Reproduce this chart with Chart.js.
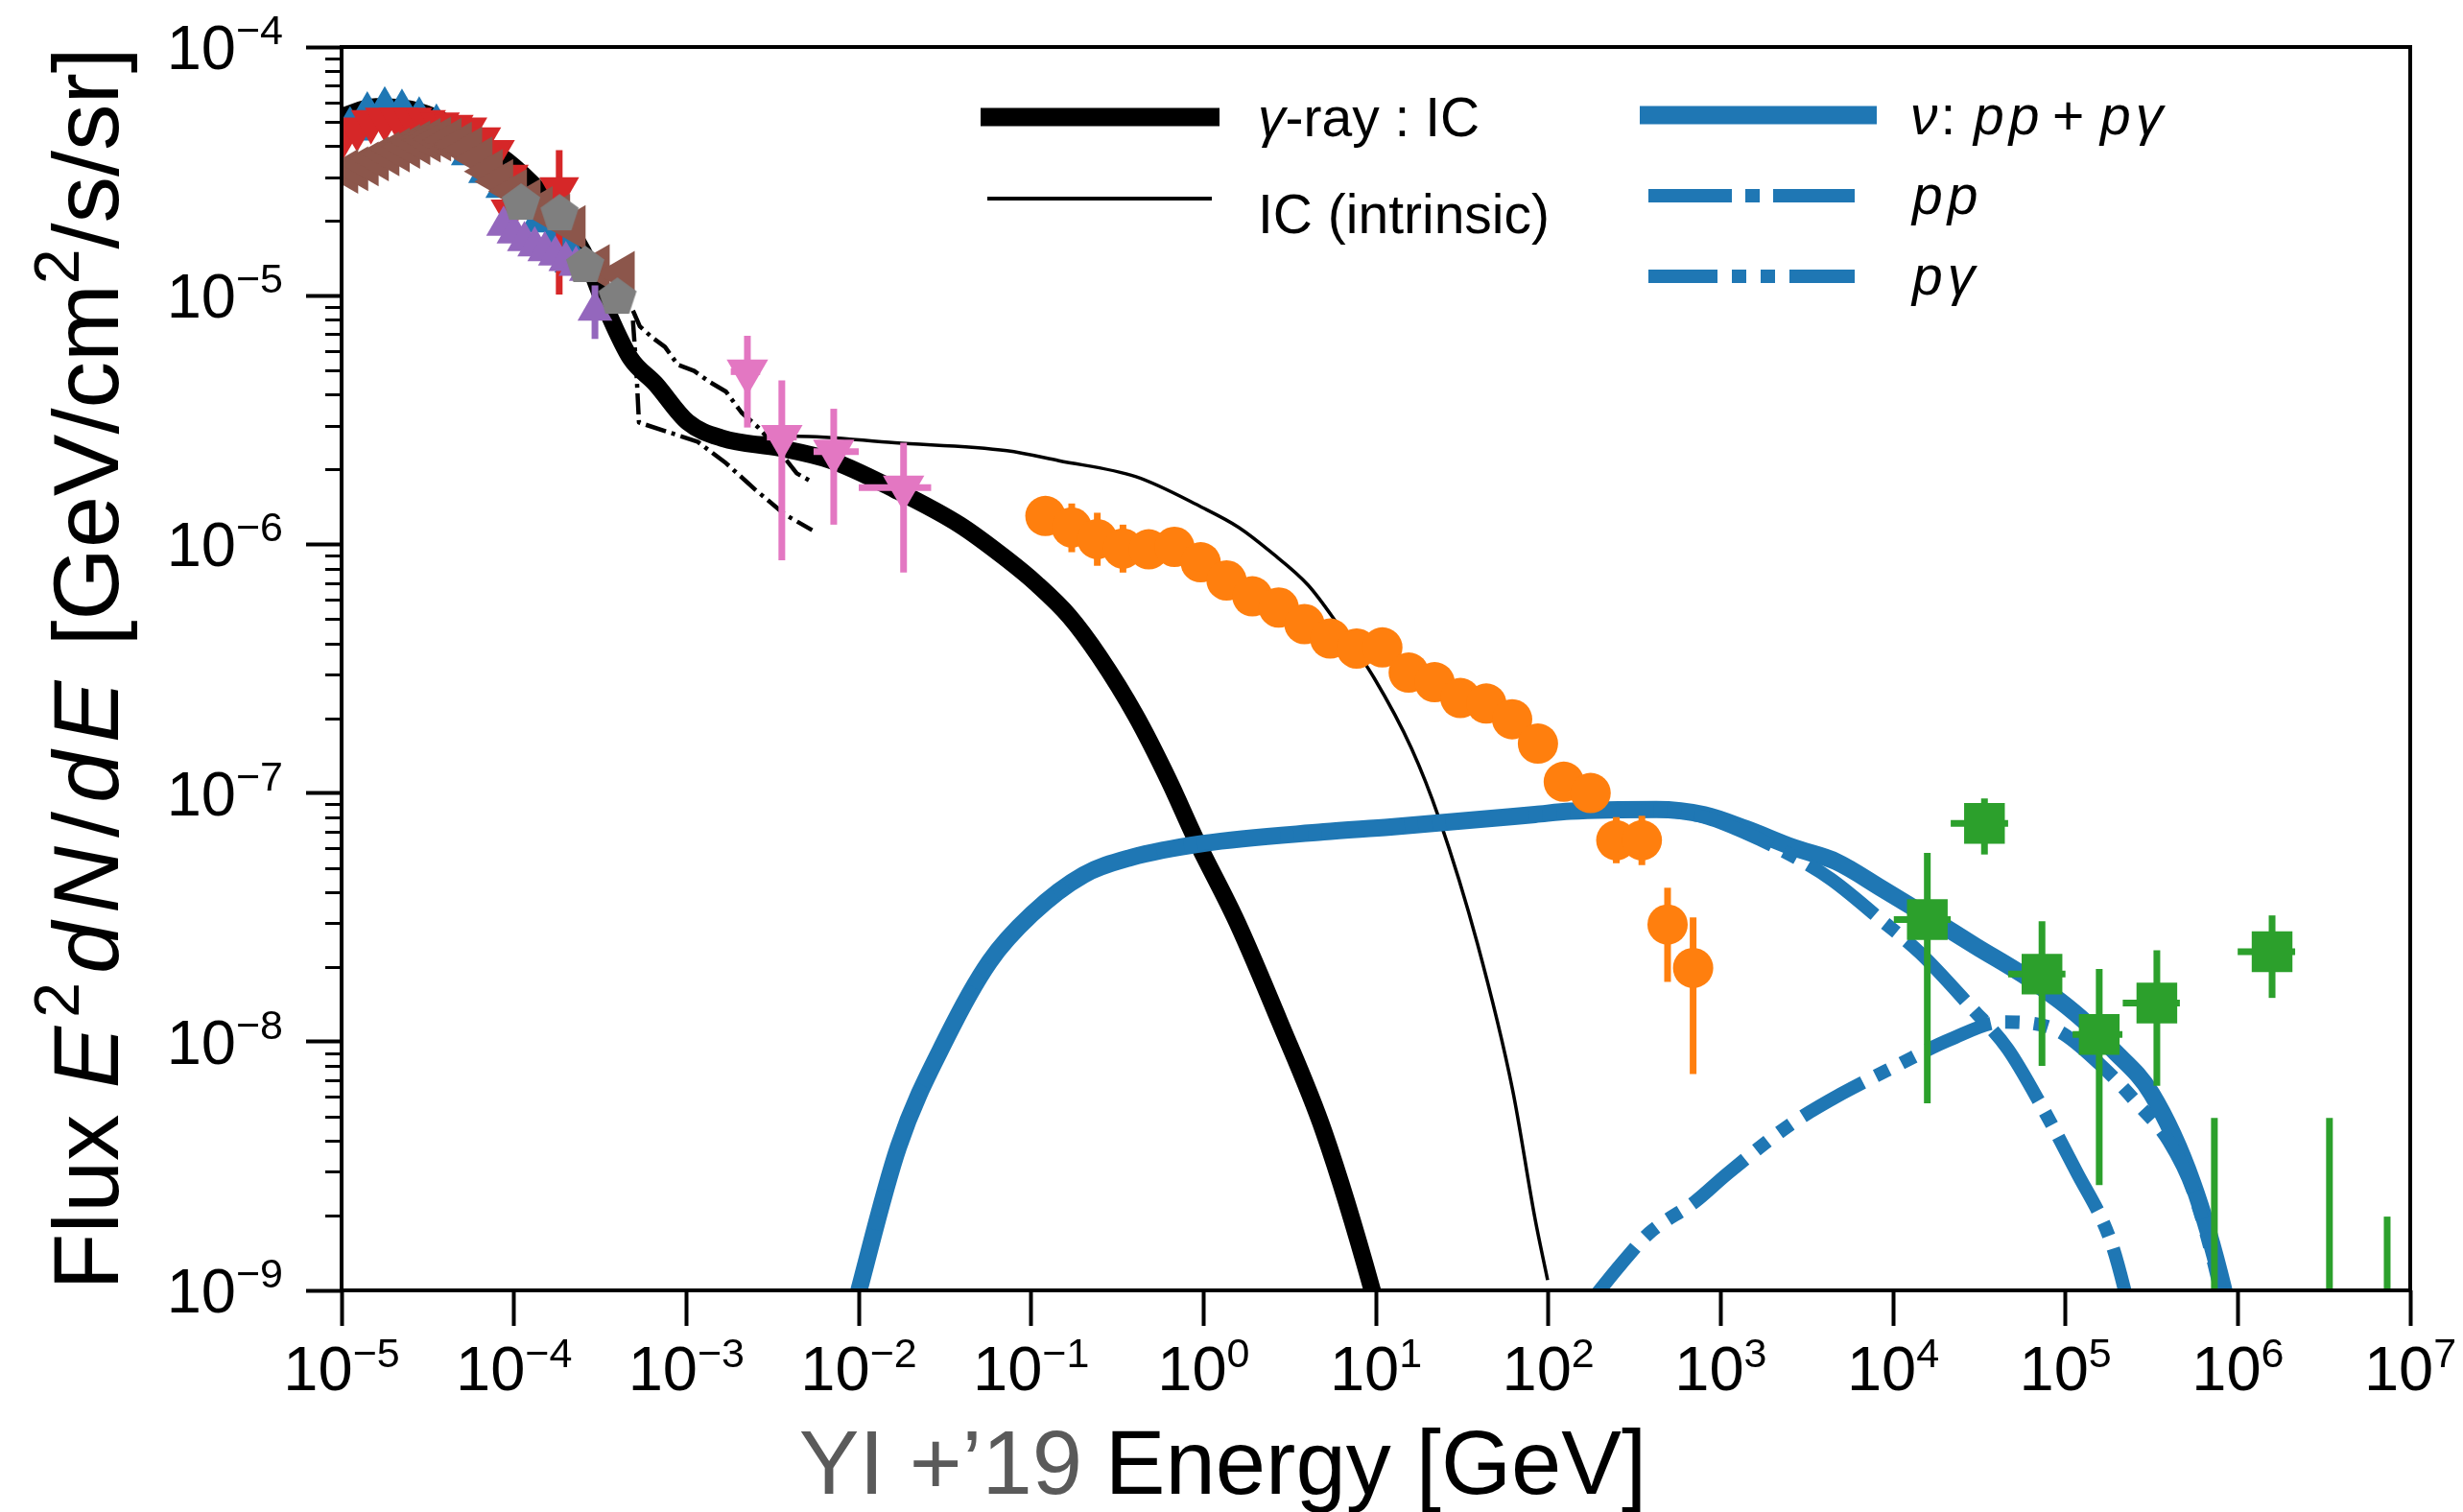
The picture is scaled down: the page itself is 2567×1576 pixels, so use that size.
<!DOCTYPE html>
<html>
<head>
<meta charset="utf-8">
<script src="https://cdn.jsdelivr.net/npm/chart.js@4.4.1/dist/chart.umd.min.js"></script>
<style>
html,body{margin:0;padding:0;background:#fff;overflow:hidden}
canvas{display:block}
</style>
</head>
<body>
<canvas id="c" width="2567" height="1576"></canvas>
<script>
// ================= DATA =================
// axis tick exponents (labels are 10^e)
const xTickExps = [-5,-4,-3,-2,-1,0,1,2,3,4,5,6,7];
const yTickExps = [-9,-8,-7,-6,-5,-4];

// Model curves: energy [GeV], E^2 dN/dE [GeV/cm2/s/sr]
const gammaIC_E = [1e-5,1.58e-5,2.51e-5,3.98e-5,6.31e-5,1.0e-4,1.58e-4,2.51e-4,3.47e-4,4.73e-4,6.61e-4,1.02e-3,1.62e-3,3.49e-3,6.98e-3,1.62e-2,3.84e-2,7.24e-2,0.108,0.167,0.248,0.406,0.627,0.90,1.57,2.74,4.99,9.49,10.2];
const gammaIC_F = [5.25e-5,5.75e-5,5.62e-5,5.01e-5,4.17e-5,3.31e-5,2.40e-5,1.51e-5,8.71e-6,5.62e-6,4.43e-6,3.10e-6,2.67e-6,2.44e-6,2.17e-6,1.66e-6,1.20e-6,8.71e-7,6.92e-7,5.13e-7,3.55e-7,2.04e-7,1.13e-7,6.53e-8,3.01e-8,1.22e-8,4.34e-9,1.01e-9,8.3e-10];

const icIntr_E = [1e-5,1.58e-5,2.51e-5,3.98e-5,6.31e-5,1.0e-4,1.58e-4,2.51e-4,3.47e-4,4.73e-4,6.61e-4,1.02e-3,1.62e-3,3.16e-3,4.37e-3,1.62e-2,7.24e-2,0.145,0.406,0.977,1.60,2.45,4.05,5.98,9.77,16.1,23.2,38.8,62.1,83.8,99.1];
const icIntr_F = [5.25e-5,5.75e-5,5.62e-5,5.01e-5,4.17e-5,3.31e-5,2.40e-5,1.51e-5,8.71e-6,5.62e-6,4.43e-6,3.10e-6,2.67e-6,2.69e-6,2.72e-6,2.56e-6,2.38e-6,2.17e-6,1.87e-6,1.41e-6,1.17e-6,9.33e-7,6.85e-7,4.79e-7,2.90e-7,1.51e-7,7.94e-8,2.48e-8,6.40e-9,1.94e-9,1.10e-9];

const sensA_E = [4.90e-4,5.37e-4,6.34e-4,7.52e-4,8.91e-4,1.11e-3,1.37e-3,1.70e-3,2.09e-3,2.60e-3,3.24e-3,4.37e-3,5.37e-3];
const sensA_F = [8.71e-6,7.53e-6,6.79e-6,6.22e-6,5.28e-6,4.98e-6,4.49e-6,4.11e-6,3.39e-6,2.96e-6,2.51e-6,1.93e-6,1.78e-6];
const sensB_E = [4.90e-4,5.13e-4,5.31e-4,7.94e-4,1.16e-3,1.70e-3,2.51e-3,3.72e-3,5.37e-3];
const sensB_F = [7.94e-6,5.01e-6,3.09e-6,2.82e-6,2.59e-6,2.12e-6,1.66e-6,1.32e-6,1.14e-6];

const nuTot_E = [9.33e-3,1.70e-2,3.26e-2,5.74e-2,0.101,0.202,0.379,1.0,4.99,12.2,83.8,134,423,804,1400,2660,4680,8710,1.64e4,3.05e4,5.73e4,9.27e4,1.32e5,1.86e5,3.16e5,5.47e5,8.24e5,8.71e5];
const nuTot_F = [8.3e-10,3.78e-9,1.05e-8,2.10e-8,3.26e-8,4.69e-8,5.50e-8,6.27e-8,6.98e-8,7.3e-8,8.20e-8,8.45e-8,8.59e-8,8.18e-8,7.19e-8,6.03e-8,5.30e-8,4.11e-8,3.15e-8,2.41e-8,1.85e-8,1.46e-8,1.19e-8,9.38e-9,6.18e-9,2.70e-9,1.02e-9,8.5e-10];

const nuPP_E = [9.33e-3,1.70e-2,3.26e-2,5.74e-2,0.101,0.202,0.379,1.0,4.99,12.2,83.8,134,423,804,1400,2660,4370,8710,1.43e4,2.85e4,4.61e4,7.28e4,1.15e5,1.83e5,2.19e5,2.34e5];
const nuPP_F = [8.3e-10,3.78e-9,1.05e-8,2.10e-8,3.26e-8,4.69e-8,5.50e-8,6.27e-8,6.98e-8,7.3e-8,8.20e-8,8.40e-8,8.50e-8,8.0e-8,6.9e-8,5.55e-8,4.50e-8,3.05e-8,2.28e-8,1.37e-8,9.38e-9,5.50e-9,3.03e-9,1.58e-9,1.02e-9,8.3e-10];

const nuPG_E = [178,263,385,708,1090,2510,5010,1.07e4,2.14e4,4.32e4,8.71e4,1.58e5,2.63e5,3.98e5,5.50e5,7.94e5,8.51e5];
const nuPG_F = [9.1e-10,1.27e-9,1.70e-9,2.27e-9,2.94e-9,4.62e-9,6.17e-9,8.07e-9,1.02e-8,1.20e-8,1.12e-8,8.13e-9,5.62e-9,3.98e-9,2.51e-9,1.0e-9,7.9e-10];

// Data points
const blueTri_E = [1.12e-5,1.41e-5,1.78e-5,2.24e-5,2.82e-5,3.55e-5,4.47e-5,5.62e-5,7.08e-5,8.91e-5,1.12e-4,1.41e-4,1.78e-4,2.24e-4];
const blueTri_F = [4.68e-5,5.37e-5,5.62e-5,5.50e-5,5.13e-5,4.79e-5,4.27e-5,3.72e-5,3.16e-5,2.75e-5,2.40e-5,2.00e-5,1.74e-5,1.38e-5];

const redTri_E = [1.02e-5,1.23e-5,1.48e-5,1.78e-5,2.14e-5,2.57e-5,3.09e-5,3.72e-5,4.47e-5,5.37e-5,6.46e-5,7.76e-5,9.33e-5,9.55e-5,1.83e-4];
const redTri_F = [4.37e-5,4.68e-5,5.01e-5,5.13e-5,5.13e-5,5.13e-5,5.01e-5,4.90e-5,4.79e-5,4.68e-5,4.27e-5,3.80e-5,3.02e-5,2.19e-5,2.69e-5];
const redTri_yLo = [null,null,null,null,null,null,null,null,null,null,null,null,null,null,1.01e-5];
const redTri_yHi = [null,null,null,null,null,null,null,null,null,null,null,null,null,null,3.85e-5];

const purple_E = [8.71e-5,1.0e-4,1.15e-4,1.32e-4,1.51e-4,1.74e-4,2.0e-4,2.29e-4,2.63e-4,2.95e-4];
const purple_F = [1.91e-5,1.78e-5,1.66e-5,1.58e-5,1.51e-5,1.45e-5,1.38e-5,1.32e-5,1.26e-5,8.71e-6];
const purple_yLo = [null,null,null,null,null,null,null,null,null,6.70e-6];
const purple_yHi = [null,null,null,null,null,null,null,null,null,1.10e-5];

const brown_E = [1.05e-5,1.20e-5,1.38e-5,1.58e-5,1.82e-5,2.09e-5,2.40e-5,2.75e-5,3.16e-5,3.63e-5,4.17e-5,4.79e-5,5.50e-5,6.31e-5,7.24e-5,8.32e-5,1.0e-4,1.20e-4,1.41e-4,1.78e-4,2.19e-4,3.02e-4,4.22e-4];
const brown_F = [3.16e-5,3.24e-5,3.39e-5,3.55e-5,3.72e-5,3.85e-5,3.98e-5,4.12e-5,4.22e-5,4.27e-5,4.22e-5,4.07e-5,3.89e-5,3.55e-5,3.16e-5,2.88e-5,2.63e-5,2.40e-5,2.24e-5,2.09e-5,1.88e-5,1.31e-5,1.23e-5];

const gray_E = [1.10e-4,1.84e-4,2.59e-4,3.98e-4];
const gray_F = [2.35e-5,2.13e-5,1.32e-5,9.84e-6];

const pink_E = [2.26e-3,3.58e-3,7.16e-3,1.82e-2];
const pink_F = [4.95e-6,2.70e-6,2.36e-6,1.69e-6];
const pink_xLo = [1.81e-3,2.93e-3,5.47e-3,1.0e-2];
const pink_xHi = [2.68e-3,4.37e-3,1.0e-2,2.63e-2];
const pink_yLo = [2.95e-6,8.63e-7,1.20e-6,7.71e-7];
const pink_yHi = [6.90e-6,4.56e-6,3.51e-6,2.56e-6];

const orange_E = [0.121,0.172,0.242,0.341,0.481,0.678,0.963,1.36,1.92,2.73,3.85,5.43,7.73,10.9,15.5,21.9,30.9,43.7,61.7,87.1,123,176,248,349,492,692];
const orange_F = [1.30e-6,1.17e-6,1.05e-6,9.62e-7,9.55e-7,9.77e-7,8.47e-7,7.16e-7,6.18e-7,5.57e-7,4.78e-7,4.18e-7,3.81e-7,3.85e-7,3.05e-7,2.79e-7,2.41e-7,2.29e-7,1.98e-7,1.58e-7,1.11e-7,1.0e-7,6.46e-8,6.46e-8,2.96e-8,1.98e-8];
const orange_yLo = [null,9.3e-7,8.2e-7,7.7e-7,null,null,null,null,null,null,null,null,null,null,null,null,null,null,null,null,null,null,5.22e-8,5.13e-8,1.74e-8,7.41e-9];
const orange_yHi = [null,1.46e-6,1.34e-6,1.20e-6,null,null,null,null,null,null,null,null,null,null,null,null,null,null,null,null,null,null,8.0e-8,8.1e-8,4.16e-8,3.16e-8];

const green_E = [1.58e4,3.39e4,7.31e4,1.57e5,3.39e5,1.58e6];
const green_F = [3.10e-8,7.55e-8,1.87e-8,1.07e-8,1.43e-8,2.30e-8];
const green_xLo = [1.01e4,2.16e4,4.65e4,1.10e5,2.15e5,9.98e5];
const green_xHi = [2.16e4,4.65e4,1.0e5,2.14e5,4.61e5,2.15e6];
const green_yLo = [5.65e-9,5.66e-8,8.0e-9,2.65e-9,6.65e-9,1.50e-8];
const green_yHi = [5.75e-8,9.51e-8,3.05e-8,1.96e-8,2.33e-8,3.22e-8];

const greenUL_E = [7.31e5,3.40e6,7.35e6];
const greenUL_F = [4.94e-9,4.94e-9,1.98e-9];

// ================= STYLE / HELPERS =================
const FF = '"Liberation Sans", Arial, Helvetica, sans-serif';
const C = {blue:'#1f77b4', orange:'#ff7f0e', green:'#2ca02c', red:'#d62728', purple:'#9467bd', brown:'#8c564b', pink:'#e377c2', gray:'#7f7f7f'};
const zip = (E, F) => E.map((e, i) => ({x: e, y: F[i]}));

function pentagon(r, color) {
  const c = document.createElement('canvas');
  const s = Math.ceil(2 * r + 2);
  c.width = s; c.height = s;
  const g = c.getContext('2d');
  g.fillStyle = color;
  g.beginPath();
  for (let k = 0; k < 5; k++) {
    const a = -Math.PI / 2 + k * 2 * Math.PI / 5;
    const px = s / 2 + r * Math.cos(a), py = s / 2 + r * Math.sin(a);
    if (k === 0) g.moveTo(px, py); else g.lineTo(px, py);
  }
  g.closePath(); g.fill();
  return c;
}

function lineDS(E, F, color, width, dash, order, smooth) {
  return {data: zip(E, F), showLine: true, borderColor: color, backgroundColor: color,
    borderWidth: width, borderDash: dash || [], pointRadius: 0, tension: 0,
    cubicInterpolationMode: smooth ? 'monotone' : 'default',
    borderJoinStyle: 'round', clip: 0, order: order};
}
function ptsDS(E, F, color, style, radius, rotation, order, errors) {
  return {data: zip(E, F), showLine: false, backgroundColor: color, borderColor: color,
    pointStyle: style, pointRadius: radius, pointRotation: rotation || 0, pointBorderWidth: 0,
    clip: 0, order: order, errors: errors || null};
}

// ================= PLUGINS =================
const bgPlugin = {
  id: 'bg',
  beforeDraw(chart) {
    const ctx = chart.ctx;
    ctx.save(); ctx.fillStyle = '#fff'; ctx.fillRect(0, 0, chart.width, chart.height); ctx.restore();
  }
};

const errPlugin = {
  id: 'errbars',
  beforeDatasetDraw(chart, args) {
    const ds = chart.data.datasets[args.index];
    const e = ds.errors;
    if (!e) return;
    const {ctx, chartArea: a} = chart;
    const xs = chart.scales.x, ys = chart.scales.y;
    ctx.save();
    ctx.beginPath(); ctx.rect(a.left, a.top, a.right - a.left, a.bottom - a.top); ctx.clip();
    ctx.strokeStyle = ds.backgroundColor; ctx.lineWidth = 7; ctx.lineCap = 'butt';
    ds.data.forEach((p, i) => {
      const px = xs.getPixelForValue(p.x), py = ys.getPixelForValue(p.y);
      if (e.down) {
        ctx.beginPath(); ctx.moveTo(px, py); ctx.lineTo(px, a.bottom + 5); ctx.stroke();
      }
      if (e.yLo && e.yLo[i] != null) {
        ctx.beginPath(); ctx.moveTo(px, ys.getPixelForValue(e.yLo[i])); ctx.lineTo(px, ys.getPixelForValue(e.yHi[i])); ctx.stroke();
      }
      if (e.xLo && e.xLo[i] != null) {
        ctx.beginPath(); ctx.moveTo(xs.getPixelForValue(e.xLo[i]), py); ctx.lineTo(xs.getPixelForValue(e.xHi[i]), py); ctx.stroke();
      }
    });
    ctx.restore();
  }
};

function expStr(e) { return (e < 0 ? '\u2212' : '') + Math.abs(e); }

// draw text glyph by glyph with an extra gap after each glyph
function spacedText(ctx, t, x, y, gap) {
  let cx = x;
  for (const ch of t) { ctx.fillText(ch, cx, y); cx += ctx.measureText(ch).width + gap; }
  return cx;
}

const decorPlugin = {
  id: 'decor',
  afterDraw(chart) {
    const {ctx, chartArea: a} = chart;
    const xs = chart.scales.x, ys = chart.scales.y;
    ctx.save();
    // frame
    ctx.strokeStyle = '#000'; ctx.lineWidth = 4;
    ctx.strokeRect(a.left, a.top, a.right - a.left, a.bottom - a.top);
    // minor y ticks
    ctx.lineWidth = 3;
    for (let d = -9; d < -4; d++) {
      for (let m = 2; m <= 9; m++) {
        const py = Math.round(ys.getPixelForValue(m * Math.pow(10, d))) + 0.5;
        ctx.beginPath(); ctx.moveTo(a.left - 17, py); ctx.lineTo(a.left, py); ctx.stroke();
      }
    }
    // tick labels
    ctx.fillStyle = '#000'; ctx.textBaseline = 'alphabetic'; ctx.textAlign = 'left';
    const baseF = '65px ' + FF, expF = '43px ' + FF;
    xTickExps.forEach(e => {
      const px = xs.getPixelForValue(Math.pow(10, e));
      ctx.font = baseF; const wb = ctx.measureText('10').width;
      ctx.font = expF; const s = expStr(e); const we = ctx.measureText(s).width;
      const x0 = px - (wb + we) / 2;
      ctx.font = baseF; ctx.fillText('10', x0, a.bottom + 104);
      ctx.font = expF; ctx.fillText(s, x0 + wb, a.bottom + 80);
    });
    yTickExps.forEach(e => {
      const py = ys.getPixelForValue(Math.pow(10, e));
      ctx.font = baseF; const wb = ctx.measureText('10').width;
      ctx.font = expF; const s = expStr(e); const we = ctx.measureText(s).width;
      const xr = a.left - 61;
      ctx.font = baseF; ctx.fillText('10', xr - we - wb, py + 23);
      ctx.font = expF; ctx.fillText(s, xr - we, py - 3);
    });
    // x axis title
    ctx.font = '94px ' + FF; ctx.textAlign = 'center';
    ctx.fillText('Energy [GeV]', (a.left + a.right) / 2, 1557);
    ctx.textAlign = 'right'; ctx.fillStyle = '#5a5a5a';
    ctx.fillText('YI +\u201919', 1128, 1557);
    // y axis title (rotated); math parts drawn glyph by glyph with mathtext-like spacing
    ctx.fillStyle = '#000'; ctx.textAlign = 'left';
    const segs = [['Flux ', 'n'], ['E', 'i'], ['2', 's'], ['dN', 'i'], ['/', 'm'], ['dE', 'i'], [' [GeV/cm', 'n'], ['2', 's'], ['/s/sr]', 'n']];
    const fN = '97px ' + FF, fI = 'italic 97px ' + FF, fS = '66px ' + FF;
    const fontOf = k => k === 'i' ? fI : (k === 's' ? fS : fN);
    const mathGap = 9;
    const pieces = [];
    segs.forEach(([t, k], si) => {
      const isMath = (k === 'i' || k === 'm' || (k === 's' && si === 2));
      if (isMath) { for (const ch of t) pieces.push([ch, k, mathGap]); }
      else pieces.push([t, k, 0]);
    });
    let total = 0;
    pieces.forEach(([t, k, g]) => { ctx.font = fontOf(k); total += ctx.measureText(t).width + g; });
    ctx.save();
    ctx.translate(123, (a.top + a.bottom) / 2);
    ctx.rotate(-Math.PI / 2);
    let cx = -total / 2;
    pieces.forEach(([t, k, g]) => {
      ctx.font = fontOf(k);
      ctx.fillText(t, cx, k === 's' ? -41 : 0);
      cx += ctx.measureText(t).width + g;
    });
    ctx.restore();

    // legend
    const lf = '57px ' + FF, lfi = 'italic 57px ' + FF;
    const hline = (x1, x2, y, w, color, dash) => {
      ctx.save(); ctx.strokeStyle = color; ctx.lineWidth = w; ctx.lineCap = 'butt'; ctx.setLineDash(dash || []);
      ctx.beginPath(); ctx.moveTo(x1, y); ctx.lineTo(x2, y); ctx.stroke(); ctx.restore();
    };
    hline(1022, 1271, 122, 19, '#000');
    hline(1029, 1263, 207, 4, '#000');
    hline(1709, 1956, 120, 19, C.blue);
    hline(1718, 1933, 204, 14, C.blue, [87, 14, 15, 14]);
    hline(1718, 1933, 288, 14, C.blue, [72, 15, 15, 15, 15, 15]);
    ctx.fillStyle = '#000'; ctx.textAlign = 'left';
    let lx = 1311;
    ctx.font = lfi; ctx.fillText('\u03b3', lx, 142); lx += ctx.measureText('\u03b3').width;
    ctx.font = lf; ctx.fillText('-ray : IC', lx, 142);
    ctx.fillText('IC (intrinsic)', 1311, 243);
    lx = 1991;
    ctx.font = lfi; ctx.fillText('\u03bd', lx, 140); lx += ctx.measureText('\u03bd').width + 3;
    ctx.font = lf; ctx.fillText(':', lx, 140);
    ctx.font = lfi; spacedText(ctx, 'pp', 2057, 140, 5);
    ctx.font = lf; ctx.fillText('+', 2139, 140);
    ctx.font = lfi; spacedText(ctx, 'p\u03b3', 2189, 140, 5);
    spacedText(ctx, 'pp', 1993, 223, 5);
    spacedText(ctx, 'p\u03b3', 1993, 307, 5);
    ctx.restore();
  }
};

// ================= CHART =================
const datasets = [
  lineDS(sensA_E, sensA_F, '#000', 4.5, [22, 6, 4, 6], 30, false),
  lineDS(sensB_E, sensB_F, '#000', 4.5, [22, 6, 4, 6], 29, false),
  lineDS(icIntr_E, icIntr_F, '#000', 3.5, null, 28, true),
  lineDS(gammaIC_E, gammaIC_F, '#000', 18, null, 27, true),
  lineDS(nuTot_E, nuTot_F, C.blue, 18, null, 26, true),
  lineDS(nuPP_E, nuPP_F, C.blue, 14, [87, 14, 15, 14], 25, true),
  lineDS(nuPG_E, nuPG_F, C.blue, 14, [72, 15, 15, 15, 15, 15], 24, true),
  ptsDS(blueTri_E, blueTri_F, C.blue, 'triangle', 24, 0, 12),
  ptsDS(redTri_E, redTri_F, C.red, 'triangle', 24, 180, 11, {yLo: redTri_yLo, yHi: redTri_yHi}),
  ptsDS(purple_E, purple_F, C.purple, 'triangle', 21, 0, 10, {yLo: purple_yLo, yHi: purple_yHi}),
  ptsDS(brown_E, brown_F, C.brown, 'triangle', 27, 270, 9),
  ptsDS(gray_E, gray_F, C.gray, pentagon(21, C.gray), 21, 0, 8),
  ptsDS(pink_E, pink_F, C.pink, 'triangle', 25, 180, 7, {xLo: pink_xLo, xHi: pink_xHi, yLo: pink_yLo, yHi: pink_yHi}),
  ptsDS(orange_E, orange_F, C.orange, 'circle', 21, 0, 6, {yLo: orange_yLo, yHi: orange_yHi}),
  ptsDS(green_E, green_F, C.green, 'rect', 30, 0, 5, {xLo: green_xLo, xHi: green_xHi, yLo: green_yLo, yHi: green_yHi}),
  ptsDS(greenUL_E, greenUL_F, C.green, 'circle', 0, 0, 4, {down: true})
];

new Chart(document.getElementById('c'), {
  type: 'scatter',
  data: {datasets},
  options: {
    responsive: false, animation: false, devicePixelRatio: 1, events: [],
    layout: {padding: {left: 0, top: 49, right: 55, bottom: 0}},
    plugins: {legend: {display: false}, tooltip: {enabled: false}, title: {display: false}},
    scales: {
      x: {
        type: 'logarithmic', position: 'bottom', min: 1e-5, max: 1e7,
        afterBuildTicks: s => { s.ticks = xTickExps.map(e => ({value: Math.pow(10, e)})); },
        afterFit: s => { s.height = 231; },
        ticks: {display: false},
        grid: {display: true, drawOnChartArea: false, drawTicks: true, tickLength: 37, tickWidth: 4, tickColor: '#000'},
        border: {display: false}
      },
      y: {
        type: 'logarithmic', position: 'left', min: 1e-9, max: 1e-4,
        afterBuildTicks: s => { s.ticks = yTickExps.map(e => ({value: Math.pow(10, e)})); },
        afterFit: s => { s.width = 356; },
        ticks: {display: false},
        grid: {display: true, drawOnChartArea: false, drawTicks: true, tickLength: 37, tickWidth: 4, tickColor: '#000'},
        border: {display: false}
      }
    }
  },
  plugins: [bgPlugin, errPlugin, decorPlugin]
});
</script>
</body>
</html>
